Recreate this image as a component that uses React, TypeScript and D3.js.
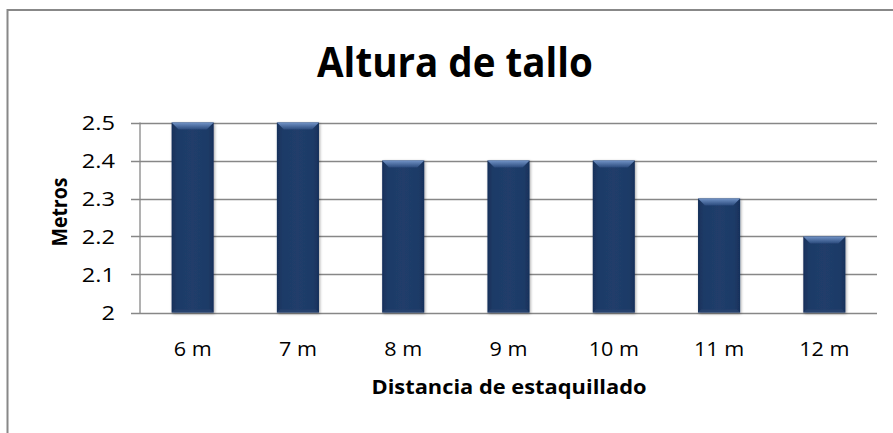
import React from "react";
import * as d3 from "d3";

const categories = ["6 m", "7 m", "8 m", "9 m", "10 m", "11 m", "12 m"];
const values = [2.5, 2.5, 2.4, 2.4, 2.4, 2.3, 2.2];
const yTicks = [2, 2.1, 2.2, 2.3, 2.4, 2.5];
const title = "Altura de tallo";
const xTitle = "Distancia de estaquillado";
const yTitle = "Metros";

const W = 893;
const H = 433;
const left = 140;
const right = 877;
const top = 122.5;
const bottom = 312.5;
const font = "'Open Sans', 'Liberation Sans', sans-serif";

export default function App() {
  const x = d3.scaleBand<string>().domain(categories).range([left, right]).paddingInner(0.6).paddingOuter(0.3);
  const y = d3.scaleLinear().domain([2, 2.5]).range([bottom, top]);
  const bw = x.bandwidth();
  const bev = 7;
  return (
    <svg width={W} height={H} style={{ position: "absolute", left: 0, top: 0, background: "#fff" }}>
      <defs>
        <linearGradient id="barH" x1="0" x2="1" y1="0" y2="0">
          <stop offset="0" stopColor="#17305a" />
          <stop offset="0.12" stopColor="#1e3a66" />
          <stop offset="0.5" stopColor="#203d6b" />
          <stop offset="0.88" stopColor="#1e3a66" />
          <stop offset="1" stopColor="#17305a" />
        </linearGradient>
        <linearGradient id="bevel" x1="0" x2="0" y1="0" y2="1">
          <stop offset="0" stopColor="#7193c6" />
          <stop offset="1" stopColor="#2a4a7c" />
        </linearGradient>
        <filter id="sh" x="-20%" y="-10%" width="140%" height="120%">
          <feGaussianBlur in="SourceAlpha" stdDeviation="1.5" />
          <feOffset dx="1" dy="1" result="b" />
          <feComponentTransfer><feFuncA type="linear" slope="0.35" /></feComponentTransfer>
          <feMerge><feMergeNode /><feMergeNode in="SourceGraphic" /></feMerge>
        </filter>
      </defs>
      <rect x={7.5} y={10} width={W} height={H} fill="#fff" stroke="#888" strokeWidth={2} />
      <text x={455} y={77} textAnchor="middle" fontFamily={font} fontWeight="bold" fontSize={41} textLength={276} lengthAdjust="spacingAndGlyphs" fill="#000">{title}</text>
      {yTicks.map((t) => (
        <g key={t}>
          <line x1={131} x2={right} y1={Math.round(y(t)) + 0.5} y2={Math.round(y(t)) + 0.5} stroke="#878787" strokeWidth={1.3} />
          <text transform={`translate(115,${y(t) + 7}) scale(1.18,1)`} textAnchor="end" fontFamily={font} fontSize={20} fill="#000">{d3.format("")(t)}</text>
        </g>
      ))}
      <line x1={left} x2={left} y1={top} y2={bottom + 1} stroke="#878787" strokeWidth={1.3} />
      {categories.map((c, i) => {
        const bx = x(c)!;
        const by = y(values[i]);
        const h = bottom - by;
        return (
          <g key={c}>
            <g filter="url(#sh)">
              <rect x={bx} y={by} width={bw} height={h} fill="url(#barH)" />
              <polygon points={`${bx},${by} ${bx + bw},${by} ${bx + bw - bev},${by + bev} ${bx + bev},${by + bev}`} fill="url(#bevel)" />
              <polygon points={`${bx},${by + h} ${bx + bw},${by + h} ${bx + bw - 3},${by + h - 3} ${bx + 3},${by + h - 3}`} fill="#2b4670" opacity={0.7} />
            </g>
            <text transform={`translate(${bx + bw / 2},356) scale(1.08,1)`} textAnchor="middle" fontFamily={font} fontSize={20} fill="#000">{c}</text>
          </g>
        );
      })}
      <text x={509} y={394} textAnchor="middle" fontFamily={font} fontWeight="bold" fontSize={20} textLength={275} lengthAdjust="spacingAndGlyphs" fill="#000">{xTitle}</text>
      <text transform={`translate(67,212) rotate(-90)`} textAnchor="middle" fontFamily={font} fontWeight="bold" fontSize={22} textLength={69} lengthAdjust="spacingAndGlyphs" fill="#000">{yTitle}</text>
    </svg>
  );
}
